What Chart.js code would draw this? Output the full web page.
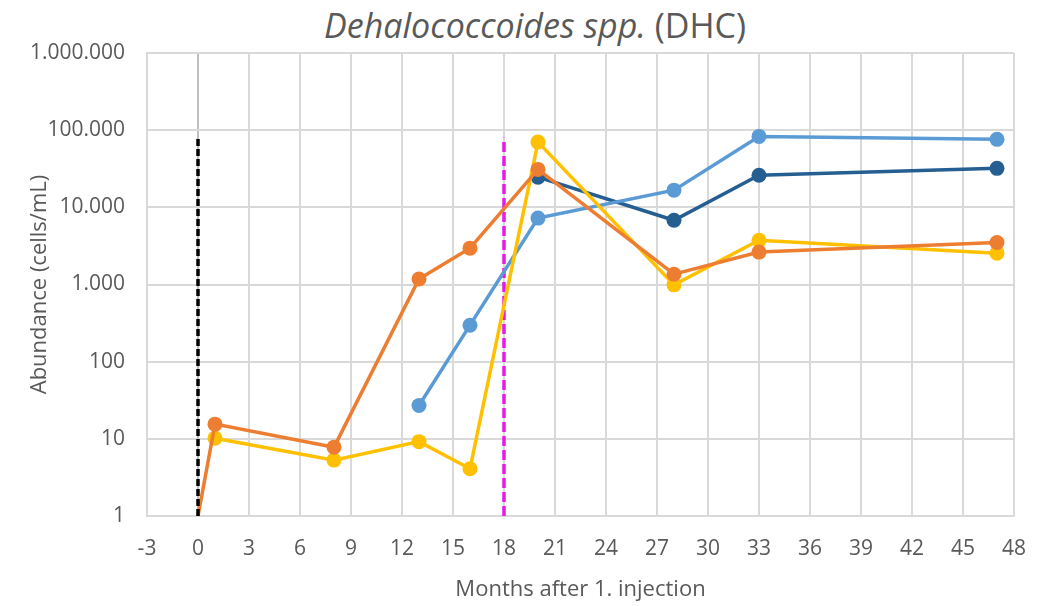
<!DOCTYPE html>
<html>
<head>
<meta charset="utf-8">
<script src="https://cdn.jsdelivr.net/npm/chart.js@4/dist/chart.umd.min.js"></script>
<style>
  html, body { margin: 0; padding: 0; background: #fff; }
  #wrap { position: relative; width: 1046px; height: 606px; }
  #title {
    position: absolute; left: 12px; top: 3px; width: 1046px; margin: 0;
    text-align: center; font-family: "Open Sans", sans-serif;
    font-weight: normal; font-size: 34px; color: #595959; line-height: 44px;
  }
  canvas { position: absolute; left: 0; top: 0; }
</style>
</head>
<body>
<div id="wrap">
  <h1 id="title"><i>Dehalococcoides spp.</i> (DHC)</h1>
  <canvas id="c" width="1046" height="606"></canvas>
</div>
<script>
// Months after the first injection and DHC abundance (cells/mL) per well
const orangeMonths = [0, 1, 8, 13, 16, 20, 28, 33, 47];
const orangeValues = [1, 15.5, 7.8, 1180, 2960, 31000, 1360, 2630, 3500];

const yellowMonths = [1, 8, 13, 16, 20, 28, 33, 47];
const yellowValues = [10.2, 5.3, 9.2, 4.1, 70000, 990, 3750, 2550];

const lightBlueMonths = [13, 16, 20, 28, 33, 47];
const lightBlueValues = [27, 297, 7250, 16700, 83000, 76000];

const darkBlueMonths = [20, 28, 33, 47];
const darkBlueValues = [24600, 6800, 26000, 32000];

// Vertical markers: first injection (month 0) and second injection (month 18)
const injectionMonths = [0, 18];
const markerRange = [1, 80000];

const xTickMin = -3, xTickMax = 48, xTickStep = 3;
const yTickValues = [1, 10, 100, 1000, 10000, 100000, 1000000];

const toPoints = (xs, ys) => xs.map((x, i) => ({ x: x, y: ys[i] }));
const fmtDot = v => String(Math.round(v)).replace(/\B(?=(\d{3})+(?!\d))/g, '.');

const lineStyle = (color) => ({
  borderColor: color, backgroundColor: color, borderWidth: 3.5,
  pointRadius: 7.5, pointHoverRadius: 7.5, pointBorderWidth: 0,
  tension: 0, showLine: true, fill: false
});

const markerLine = (x, color, dash) => ({
  data: [{ x: x, y: markerRange[0] }, { x: x, y: markerRange[1] }],
  borderColor: color, borderWidth: 3.5, borderDash: dash,
  pointRadius: 0, showLine: true, fill: false, borderCapStyle: 'butt'
});

const txt = '#595959';
const fontFam = '"Open Sans", sans-serif';

new Chart(document.getElementById('c'), {
  type: 'scatter',
  data: {
    datasets: [
      markerLine(injectionMonths[0], '#000000', [7, 3]),
      Object.assign(lineStyle('#ED7D31'), {
        data: toPoints(orangeMonths, orangeValues),
        pointRadius: ctx => (ctx.dataIndex === 0 ? 0 : 7.5)
      }),
      Object.assign(lineStyle('#FFC000'), { data: toPoints(yellowMonths, yellowValues) }),
      Object.assign(lineStyle('#5B9BD5'), { data: toPoints(lightBlueMonths, lightBlueValues) }),
      Object.assign(lineStyle('#255E91'), { data: toPoints(darkBlueMonths, darkBlueValues) }),
      markerLine(injectionMonths[1], '#E619E6', [10, 4])
    ]
  },
  options: {
    responsive: false,
    animation: false,
    clip: false,
    layout: { padding: { top: 53, right: 30, left: 0, bottom: 0 } },
    plugins: { legend: { display: false }, tooltip: { enabled: false }, title: { display: false } },
    scales: {
      x: {
        type: 'linear', min: xTickMin, max: xTickMax,
        ticks: { stepSize: xTickStep, color: txt, font: { family: fontFam, size: 21 }, padding: 20, maxRotation: 0 },
        grid: {
          color: ctx => (ctx.tick && ctx.tick.value === 0 ? '#BFBFBF' : '#D9D9D9'),
          lineWidth: 2, drawTicks: false
        },
        border: { color: '#D9D9D9', width: 2 },
        title: { display: true, text: 'Months after 1. injection', color: txt, font: { family: fontFam, size: 22 }, padding: { top: 0, bottom: 3 } },
        afterFit: s => { s.height = 90; }
      },
      y: {
        type: 'logarithmic', min: 1, max: 1000000,
        afterBuildTicks: s => { s.ticks = yTickValues.map(v => ({ value: v })); },
        ticks: { color: txt, font: { family: fontFam, size: 21 }, padding: 22, callback: v => fmtDot(v), autoSkip: false },
        grid: { color: '#D9D9D9', lineWidth: 2, drawTicks: false },
        border: { color: '#D9D9D9', width: 2 },
        title: { display: true, text: 'Abundance (cells/mL)', color: txt, font: { family: fontFam, size: 22 }, padding: { top: 27, bottom: 0 } },
        afterFit: s => { s.width = 147; }
      }
    }
  }
});
</script>
</body>
</html>
